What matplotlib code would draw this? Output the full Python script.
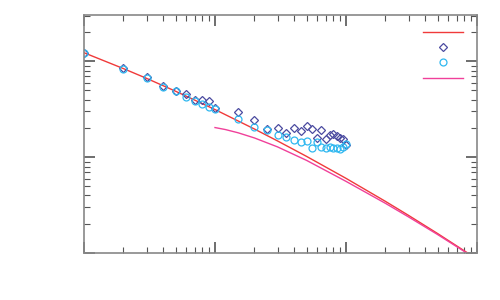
"""
Log-log comparison: measured points (two series) against a power-law fit and a model curve.
"""
import matplotlib
matplotlib.use("Agg")
import matplotlib.pyplot as plt  # noqa: E402
from matplotlib.lines import Line2D  # noqa: E402
from matplotlib.ticker import LogLocator, NullFormatter  # noqa: E402

# ── data ──────────────────────────────────────────────────────────────────────
x_pts = [1, 2, 3, 4, 5, 6, 7, 8, 9, 10,
         15, 20, 25, 30, 35, 40, 45, 50, 55, 60,
         65, 70, 75, 80, 85, 90, 95, 100]
diamonds = [1.229, 0.852, 0.691, 0.557, 0.491, 0.460, 0.398, 0.395, 0.383, 0.329,
            0.297, 0.247, 0.197, 0.202, 0.178, 0.202, 0.188, 0.212, 0.196, 0.160,
            0.192, 0.154, 0.171, 0.174, 0.168, 0.160, 0.155, 0.133]
circles = [1.229, 0.841, 0.665, 0.546, 0.485, 0.428, 0.386, 0.356, 0.336, 0.316,
           0.249, 0.208, 0.192, 0.171, 0.161, 0.151, 0.143, 0.148, 0.126, 0.143,
           0.129, 0.126, 0.129, 0.124, 0.124, 0.121, 0.129, 0.137]

fit_x = [1, 2, 3, 5, 10, 20, 30, 50, 100, 200, 300, 500, 1000]
fit_y = [1.229, 0.840, 0.665, 0.488, 0.3143, 0.197, 0.148, 0.1021, 0.0603,
         0.0347, 0.0248, 0.01604, 0.00869]

model_x = [10, 12, 15, 20, 30, 50, 100, 200, 300, 500, 1000]
model_y = [0.204, 0.1945, 0.180, 0.159, 0.1283, 0.0928, 0.0561, 0.0331, 0.0239,
           0.01566, 0.00859]

RED = "#f03a3a"
NAVY = "#4a4aa0"
CYAN = "#30b8f0"
PINK = "#f0409a"

fig = plt.figure(figsize=(5, 3), dpi=100)
ax = fig.add_axes([0.168, 0.156, 0.786, 0.794])

ax.plot(fit_x, fit_y, color=RED, lw=1)
ax.plot(x_pts, diamonds, ls="none", marker="D", ms=4, mfc="none", mec=NAVY, mew=0.9)
ax.plot(x_pts, circles, ls="none", marker="o", ms=5, mfc="none", mec=CYAN, mew=0.9)
ax.plot(model_x, model_y, color=PINK, lw=1)

ax.set_xscale("log")
ax.set_yscale("log")
ax.set_xlim(1, 1000)
ax.set_ylim(0.01, 3.04)

for axis in (ax.xaxis, ax.yaxis):
    axis.set_major_locator(LogLocator(base=10))
    axis.set_minor_locator(LogLocator(base=10, subs=range(2, 10)))
    axis.set_major_formatter(NullFormatter())
    axis.set_minor_formatter(NullFormatter())
ax.tick_params(which="both", direction="in", top=True, right=True, colors="#555555")
ax.tick_params(which="major", length=8, width=1.2)
ax.tick_params(which="minor", length=4, width=0.8)
for sp in ax.spines.values():
    sp.set_color("#888888")
    sp.set_linewidth(1.2)

handles = [
    Line2D([], [], color=RED, lw=1),
    Line2D([], [], ls="none", marker="D", ms=4, mfc="none", mec=NAVY, mew=0.9),
    Line2D([], [], ls="none", marker="o", ms=5, mfc="none", mec=CYAN, mew=0.9),
    Line2D([], [], color=PINK, lw=1),
]
ax.legend(handles, ["", "", "", ""], loc="upper right", bbox_to_anchor=(0.975, 0.965),
          frameon=False, handlelength=4.2, labelspacing=0.68, handletextpad=0,
          fontsize=6.7, borderpad=0)

fig.savefig("out.png", dpi=100)
